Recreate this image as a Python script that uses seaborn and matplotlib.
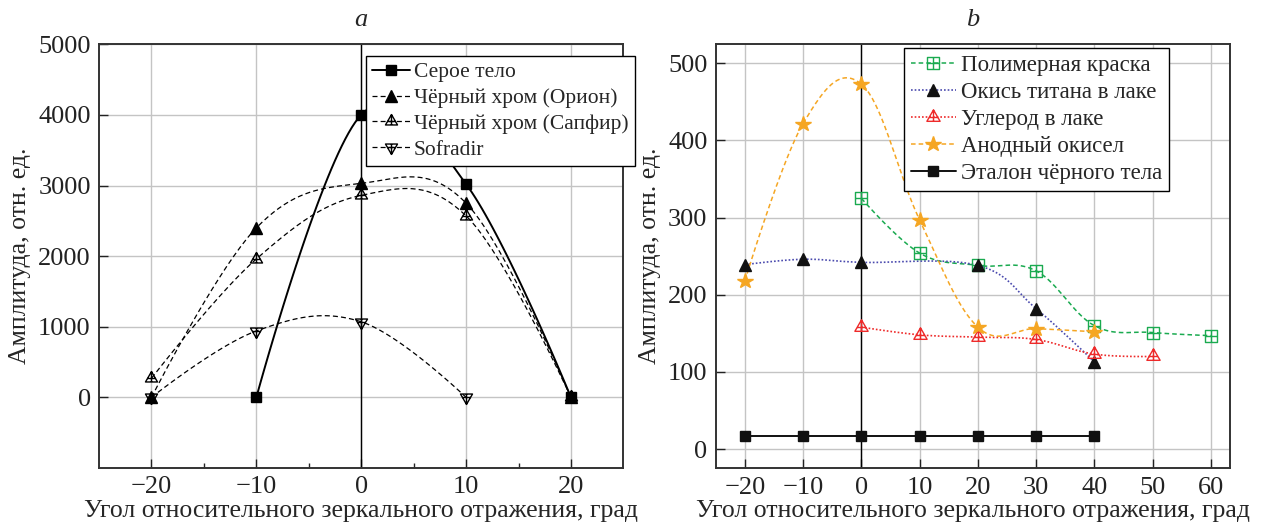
import numpy as np
import matplotlib
matplotlib.use('Agg')
import matplotlib.pyplot as plt
from matplotlib.path import Path
from matplotlib.lines import Line2D
import seaborn as sns

# --- panel a ---
a_gray_x = [-10, 0, 10, 20]
a_gray_y = [0, 4000, 3020, 0]
a_orion_x = [-20, -10, 0, 10, 20]
a_orion_y = [0, 2400, 3030, 2750, 0]
a_sapfir_x = [-20, -10, 0, 10, 20]
a_sapfir_y = [270, 1960, 2860, 2570, 0]
a_sofradir_x = [-20, -10, 0, 10]
a_sofradir_y = [0, 940, 1070, 0]
a_labels = ['Серое тело', 'Чёрный хром (Орион)', 'Чёрный хром (Сапфир)', 'Sofradir']

# --- panel b ---
b_polymer_x = [0, 10, 20, 30, 40, 50, 60]
b_polymer_y = [325, 254, 238, 231, 160, 151, 147]
b_titan_x = [-20, -10, 0, 20, 30, 40]
b_titan_y = [239, 246, 242, 238, 182, 113]
b_carbon_x = [0, 10, 20, 30, 40, 50]
b_carbon_y = [158, 148, 145, 142, 123, 120]
b_anod_x = [-20, -10, 0, 10, 20, 30, 40]
b_anod_y = [218, 422, 473, 297, 158, 156, 152]
b_black_x = [-20, -10, 0, 10, 20, 30, 40]
b_black_y = [17, 17, 17, 17, 17, 17, 17]
b_labels = ['Полимерная краска', 'Окись титана в лаке', 'Углерод в лаке',
            'Анодный окисел', 'Эталон чёрного тела']

xlabel = 'Угол относительного зеркального отражения, град'
ylabel = 'Амплитуда, отн. ед.'

sns.set_theme(style='ticks')
plt.rcParams['font.family'] = ['Liberation Serif', 'DejaVu Serif']


def smooth(x, y, k=0.183, n=40):
    # cardinal spline through the points, like a "smooth" plot
    p = np.column_stack([x, y]).astype(float)
    if len(p) < 3:
        return p[:, 0], p[:, 1]
    xs, ys = [], []
    for i in range(len(p) - 1):
        p0, p3 = p[i], p[i + 1]
        c1 = p0 + k * (p[i + 1] - p[i - 1]) if i > 0 else p0
        c2 = p3 - k * (p[i + 2] - p[i]) if i + 2 < len(p) else p3
        t = np.linspace(0, 1, n)[:, None]
        seg = ((1 - t) ** 3) * p0 + 3 * ((1 - t) ** 2) * t * c1 + 3 * (1 - t) * t ** 2 * c2 + t ** 3 * p3
        xs.append(seg[:, 0])
        ys.append(seg[:, 1])
    return np.concatenate(xs), np.concatenate(ys)


def tri_cross(flip=False):
    s = -1 if flip else 1
    verts = [(0, s * 1), (-0.866, -s * 0.5), (0.866, -s * 0.5), (0, s * 1),
             (0, s * 1), (0, -s * 0.5),
             (-0.577, 0), (0.577, 0)]
    codes = [Path.MOVETO, Path.LINETO, Path.LINETO, Path.CLOSEPOLY,
             Path.MOVETO, Path.LINETO, Path.MOVETO, Path.LINETO]
    return Path(verts, codes)


boxplus = Path([(-1, -1), (1, -1), (1, 1), (-1, 1), (-1, -1),
                (0, -1), (0, 1), (-1, 0), (1, 0)],
               [Path.MOVETO, Path.LINETO, Path.LINETO, Path.LINETO, Path.CLOSEPOLY,
                Path.MOVETO, Path.LINETO, Path.MOVETO, Path.LINETO])

dash = (0, (4, 2.5))
green = '#1aaa50'
blue = '#4a4aae'
red = '#ee2a2a'
orange = '#f5a623'

fig = plt.figure(figsize=(12.65, 5.27), dpi=100)
ax1 = fig.add_axes([0.0783, 0.1120, 0.4145, 0.804])
ax2 = fig.add_axes([0.5658, 0.1114, 0.4066, 0.805])

styles_a = [
    (a_gray_x, a_gray_y, dict(color='black', ls='-', lw=1.4),
     dict(marker='s', ms=7, mfc='black', mec='black')),
    (a_orion_x, a_orion_y, dict(color='black', ls=dash, lw=0.9),
     dict(marker='^', ms=8.5, mfc='black', mec='black')),
    (a_sapfir_x, a_sapfir_y, dict(color='black', ls=dash, lw=0.9),
     dict(marker=tri_cross(), ms=10, mfc='none', mec='black', mew=1)),
    (a_sofradir_x, a_sofradir_y, dict(color='black', ls=dash, lw=0.9),
     dict(marker=tri_cross(True), ms=10, mfc='none', mec='black', mew=1)),
]

styles_b = [
    (b_polymer_x, b_polymer_y, dict(color=green, ls=(0, (3, 2)), lw=1.1),
     dict(marker=boxplus, ms=8, mfc='none', mec=green, mew=1)),
    (b_titan_x, b_titan_y, dict(color=blue, ls=(0, (1, 1.2)), lw=1.2),
     dict(marker='^', ms=9, mfc='#111111', mec='#111111')),
    (b_carbon_x, b_carbon_y, dict(color=red, ls=(0, (1, 1.2)), lw=1.2),
     dict(marker=tri_cross(), ms=11, mfc='none', mec=red, mew=1)),
    (b_anod_x, b_anod_y, dict(color=orange, ls=(0, (3, 2)), lw=1.1),
     dict(marker='*', ms=11.5, mfc=orange, mec=orange)),
    (b_black_x, b_black_y, dict(color='#111111', ls='-', lw=1.4),
     dict(marker='s', ms=7.5, mfc='#111111', mec='#111111')),
]


def draw(ax, styles, labels):
    handles = []
    for (x, y, lkw, mkw), lab in zip(styles, labels):
        xs, ys = smooth(x, y)
        sns.lineplot(x=xs, y=ys, ax=ax, sort=False, estimator=None,
                     color=lkw['color'], linestyle=lkw['ls'], linewidth=lkw['lw'], zorder=3)
        ax.plot(x, y, ls='none', zorder=4, **mkw)
        handles.append(Line2D([], [], color=lkw['color'], linestyle=lkw['ls'],
                              linewidth=lkw['lw'], **mkw))
    return handles


h1 = draw(ax1, styles_a, a_labels)
h2 = draw(ax2, styles_b, b_labels)

for ax in (ax1, ax2):
    ax.axvline(0, color='black', lw=1.0, zorder=2)
    ax.grid(True, color='#c4c4c4', lw=1.0, zorder=0)
    ax.set_axisbelow(True)
    for sp in ax.spines.values():
        sp.set_visible(True)
        sp.set_color('#333333')
        sp.set_linewidth(1.4)
    ax.tick_params(direction='in', length=6.5, width=1.0, colors='#222222',
                   labelsize=19, top=False, right=False, pad=6)
    ax.tick_params(which='minor', direction='in', length=3.5, width=1.0)
    ax.set_xlabel(xlabel, fontsize=18.5, labelpad=1)
    ax.set_ylabel(ylabel, fontsize=18.5, labelpad=5)

ax1.set_xlim(-25, 25)
ax1.set_ylim(-1000, 5000)
ax1.set_xticks([-20, -10, 0, 10, 20])
ax1.set_xticks([-15, -5, 5, 15], minor=True)
ax1.set_yticks([0, 1000, 2000, 3000, 4000, 5000])
ax1.set_title('a', fontsize=19, style='italic', pad=13)

ax2.set_xlim(-25, 63.3)
ax2.set_ylim(-25, 525)
ax2.set_xticks(range(-20, 61, 10))
ax2.set_yticks(range(0, 501, 100))
ax2.set_title('b', fontsize=19, style='italic', pad=13)

leg_kw = dict(loc='upper right', frameon=True, fancybox=False,
              edgecolor='black', framealpha=1, borderaxespad=0, borderpad=0.3,
              handletextpad=0.2)
l1 = ax1.legend(h1, a_labels, bbox_to_anchor=(1.0223, 0.973), fontsize=15.5,
                labelspacing=0.27, handlelength=1.75, **leg_kw)
l2 = ax2.legend(h2, b_labels, bbox_to_anchor=(0.8814, 0.9906), fontsize=16.5,
                labelspacing=0.26, handlelength=2.0, **leg_kw)
for l in (l1, l2):
    l.get_frame().set_linewidth(1.0)
    l.set_zorder(10)

fig.savefig('out.png', dpi=100)
plt.close(fig)
